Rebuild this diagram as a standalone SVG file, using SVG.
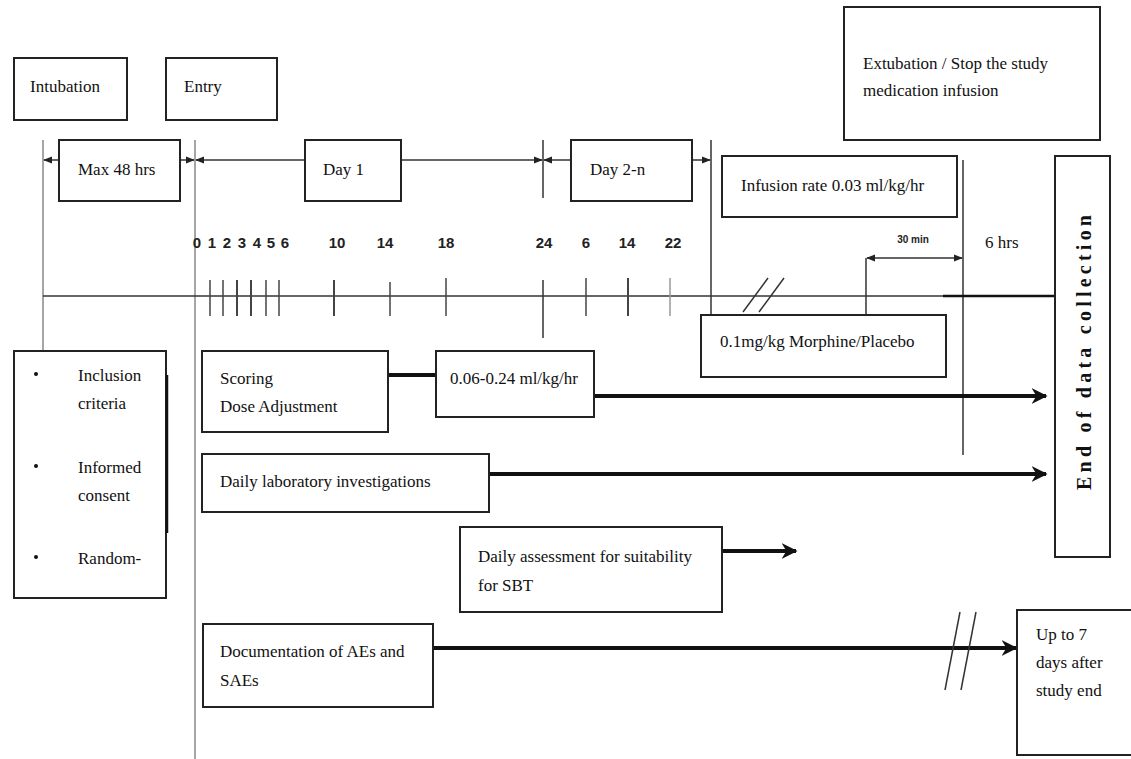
<svg xmlns="http://www.w3.org/2000/svg" width="1131" height="759" viewBox="0 0 1131 759">
<defs>
<style>
.box{fill:#fff;stroke:#222;stroke-width:2}
.t{font-family:"Liberation Serif","Times New Roman",serif;font-size:17px;fill:#111}
.n{font-family:"Liberation Sans",Arial,sans-serif;font-size:15px;font-weight:bold;fill:#222}
.g{stroke:#888;stroke-width:1.5;fill:none}
.k{stroke:#333;stroke-width:1.5;fill:none}
.thick{stroke:#111;stroke-width:4;fill:none}
</style>
<marker id="ah" viewBox="0 0 10 10" refX="9" refY="5" markerWidth="4" markerHeight="4" orient="auto-start-reverse" markerUnits="strokeWidth">
<path d="M0,0 L10,5 L0,10 L3,5 Z" fill="#111"/>
</marker>
<marker id="sa" viewBox="0 0 10 10" refX="9" refY="5" markerWidth="6" markerHeight="6" orient="auto-start-reverse" markerUnits="strokeWidth">
<path d="M0,1 L10,5 L0,9 Z" fill="#222"/>
</marker>
</defs>
<rect width="1131" height="759" fill="#fff"/>

<g id="connectors">
<line class="g" x1="43" y1="140" x2="43" y2="351"/>
<line class="g" x1="195" y1="140" x2="195" y2="759"/>
<line class="k" x1="543" y1="140" x2="543" y2="198"/>
<line class="k" x1="543" y1="280" x2="543" y2="338"/>
<line class="k" x1="711" y1="140" x2="711" y2="315"/>
<line class="k" x1="866" y1="258" x2="866" y2="315"/>
<line class="k" x1="963" y1="160" x2="963" y2="455"/>
<line class="k" x1="59" y1="160" x2="44" y2="160" marker-end="url(#sa)"/>
<line class="k" x1="180" y1="160" x2="194" y2="160" marker-end="url(#sa)"/>
<line class="k" x1="305" y1="160" x2="196" y2="160" marker-end="url(#sa)"/>
<line class="k" x1="401" y1="160" x2="542" y2="160" marker-end="url(#sa)"/>
<line class="k" x1="571" y1="160" x2="544" y2="160" marker-end="url(#sa)"/>
<line class="k" x1="692" y1="160" x2="710" y2="160" marker-end="url(#sa)"/>
<line class="k" x1="43" y1="296" x2="1056" y2="296"/>
<line stroke="#111" stroke-width="2.5" x1="943" y1="296" x2="1056" y2="296"/>
<line class="k" x1="1056" y1="288" x2="1056" y2="304"/>
<g stroke="#444" stroke-width="1.5">
<line x1="210" y1="280" x2="210" y2="316"/>
<line x1="223" y1="280" x2="223" y2="316"/>
<line x1="237" y1="280" x2="237" y2="316" stroke-width="2"/>
<line x1="251" y1="280" x2="251" y2="316" stroke-width="2"/>
<line x1="266" y1="280" x2="266" y2="316"/>
<line x1="279" y1="280" x2="279" y2="316"/>
<line x1="334" y1="280" x2="334" y2="316" stroke-width="2"/>
<line x1="390" y1="282" x2="390" y2="316"/>
<line x1="446" y1="278" x2="446" y2="316"/>
<line x1="586" y1="278" x2="586" y2="316"/>
<line x1="628" y1="278" x2="628" y2="316" stroke-width="2"/>
<line x1="670" y1="278" x2="670" y2="316" stroke="#999"/>
</g>
<line class="k" x1="743" y1="312" x2="768" y2="278"/>
<line class="k" x1="759" y1="312" x2="784" y2="278"/>
<line class="k" x1="867" y1="258" x2="962" y2="258" marker-start="url(#sa)" marker-end="url(#sa)"/>
<line class="thick" x1="388" y1="375" x2="436" y2="375"/>
<line class="thick" x1="594" y1="396" x2="1046" y2="396" marker-end="url(#ah)"/>
<line class="thick" x1="489" y1="474" x2="1046" y2="474" marker-end="url(#ah)"/>
<line class="thick" x1="722" y1="551" x2="796" y2="551" marker-end="url(#ah)"/>
<line class="thick" x1="433" y1="648" x2="1016" y2="648" marker-end="url(#ah)"/>
<line class="k" x1="945" y1="690" x2="960" y2="612"/>
<line class="k" x1="961" y1="690" x2="976" y2="612"/>
</g>

<g id="n-intubation"><rect class="box" x="14" y="58" width="113" height="62"/><text class="t" x="30" y="92">Intubation</text></g>
<g id="n-entry"><rect class="box" x="166" y="58" width="111" height="62"/><text class="t" x="184" y="92">Entry</text></g>
<g id="n-max48"><rect class="box" x="59" y="140" width="121" height="61"/><text class="t" x="78" y="175">Max 48 hrs</text></g>
<g id="n-day1"><rect class="box" x="305" y="140" width="96" height="61"/><text class="t" x="323" y="175">Day 1</text></g>
<g id="n-day2"><rect class="box" x="571" y="140" width="121" height="61"/><text class="t" x="590" y="175">Day 2-n</text></g>
<g id="n-extubation"><rect class="box" x="844" y="7" width="256" height="133"/><text class="t" x="863" y="69">Extubation / Stop the study</text><text class="t" x="863" y="96">medication infusion</text></g>
<g id="n-infusion"><rect class="box" x="722" y="156" width="235" height="61"/><text class="t" x="741" y="191">Infusion rate 0.03 ml/kg/hr</text></g>
<g id="n-end"><rect class="box" x="1055" y="156" width="55" height="401"/><text class="t" style="font-size:20px;font-weight:bold" transform="translate(1091,490) rotate(-90)" textLength="275" lengthAdjust="spacing">End of data collection</text></g>
<g id="n-morphine"><rect class="box" x="701" y="315" width="245" height="62"/><text class="t" x="720" y="347">0.1mg/kg Morphine/Placebo</text></g>
<g id="n-inclusion"><rect class="box" x="14" y="351" width="152" height="247"/><line stroke="#111" stroke-width="2.5" x1="167" y1="375" x2="167" y2="533"/>
<circle cx="36" cy="374" r="2" fill="#111"/><text class="t" x="78" y="381">Inclusion</text><text class="t" x="78" y="409">criteria</text>
<circle cx="36" cy="466" r="2" fill="#111"/><text class="t" x="78" y="473">Informed</text><text class="t" x="78" y="501">consent</text>
<circle cx="36" cy="557" r="2" fill="#111"/><text class="t" x="78" y="564">Random-</text></g>
<g id="n-scoring"><rect class="box" x="202" y="351" width="186" height="81"/><text class="t" x="220" y="384">Scoring</text><text class="t" x="220" y="412">Dose Adjustment</text></g>
<g id="n-rate"><rect class="box" x="436" y="351" width="158" height="66"/><text class="t" x="450" y="384">0.06-0.24 ml/kg/hr</text></g>
<g id="n-lab"><rect class="box" x="202" y="454" width="287" height="58"/><text class="t" x="220" y="487">Daily laboratory investigations</text></g>
<g id="n-sbt"><rect class="box" x="460" y="527" width="262" height="85"/><text class="t" x="478" y="562">Daily assessment for suitability</text><text class="t" x="478" y="591">for SBT</text></g>
<g id="n-doc"><rect class="box" x="203" y="624" width="230" height="83"/><text class="t" x="220" y="657">Documentation of AEs and</text><text class="t" x="220" y="686">SAEs</text></g>
<g id="n-upto"><rect class="box" x="1017" y="610" width="120" height="145"/><text class="t" x="1036" y="640">Up to 7</text><text class="t" x="1036" y="668">days after</text><text class="t" x="1036" y="696">study end</text></g>

<g id="labels">
<text class="n" x="197" y="248" text-anchor="middle">0</text>
<text class="n" x="212" y="248" text-anchor="middle">1</text>
<text class="n" x="227" y="248" text-anchor="middle">2</text>
<text class="n" x="242" y="248" text-anchor="middle">3</text>
<text class="n" x="257" y="248" text-anchor="middle">4</text>
<text class="n" x="271" y="248" text-anchor="middle">5</text>
<text class="n" x="285" y="248" text-anchor="middle">6</text>
<text class="n" x="337" y="248" text-anchor="middle">10</text>
<text class="n" x="385" y="248" text-anchor="middle">14</text>
<text class="n" x="446" y="248" text-anchor="middle">18</text>
<text class="n" x="544" y="248" text-anchor="middle">24</text>
<text class="n" x="586" y="248" text-anchor="middle">6</text>
<text class="n" x="627" y="248" text-anchor="middle">14</text>
<text class="n" x="673" y="248" text-anchor="middle">22</text>
<text font-family="Liberation Sans, Arial, sans-serif" font-size="10" font-weight="bold" fill="#222" x="913" y="243" text-anchor="middle">30 min</text>
<text class="t" x="985" y="248">6 hrs</text>
</g>
</svg>
